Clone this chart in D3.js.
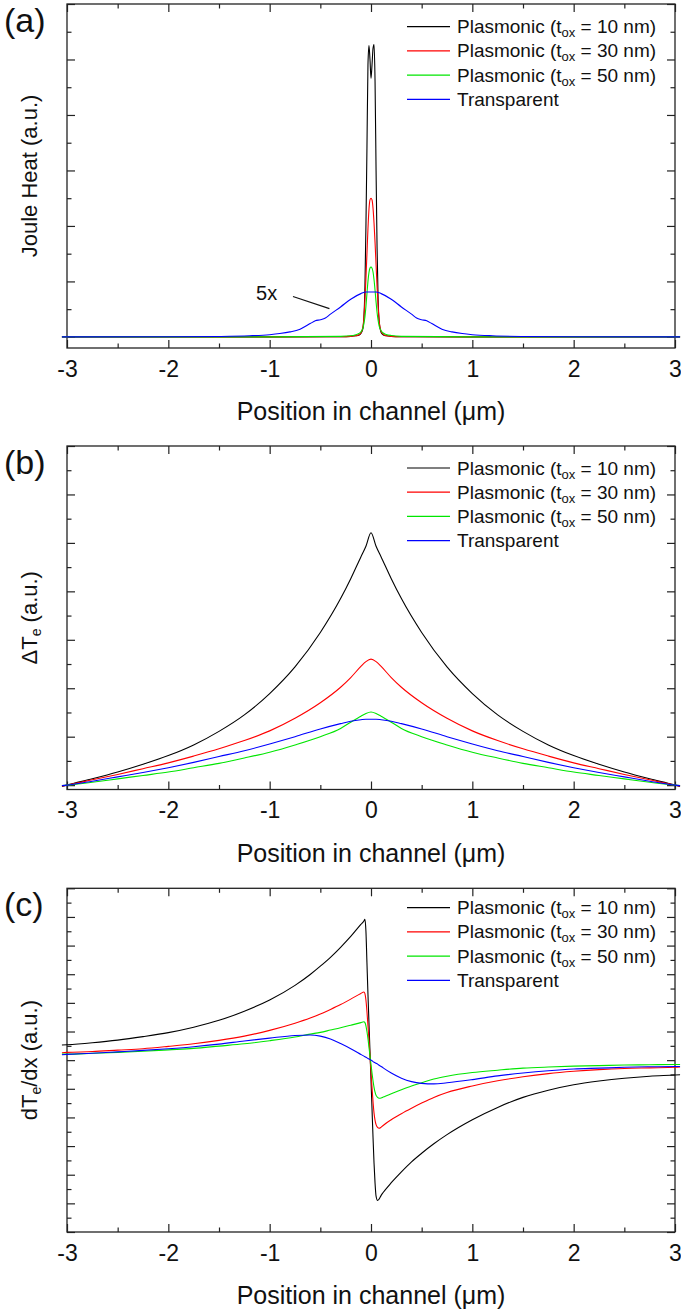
<!DOCTYPE html>
<html lang="en">
<head>
<meta charset="UTF-8" />
<title>Joule heat, electron temperature and gradient along the channel</title>
<script src="https://d3js.org/d3.v7.min.js"></script>
<style>
  body { margin: 0; background: #fff; }
  svg { display: block; font-family: "Liberation Sans", Arial, sans-serif; }
  .frame { fill: none; stroke: #222; stroke-width: 1.3px; }
  .tick line { stroke: #222; stroke-width: 1.2px; }
  .tick text { font-size: 23px; fill: #111; }
  .series { fill: none; stroke-width: 1.1px; }
  .legend text { font-size: 19px; fill: #111; }
  .x-title { font-size: 25px; fill: #111; }
  .y-title { font-size: 22px; fill: #111; }
  .panel-tag { font-size: 34px; fill: #111; }
</style>
</head>
<body>
<svg id="chart" width="681" height="1311"></svg>
<script>
// ------------------------------------------------------------
// datos (unidades arbitrarias)
// ------------------------------------------------------------
const legendLabels = ["Plasmonic (tox = 10 nm)", "Plasmonic (tox = 30 nm)", "Plasmonic (tox = 50 nm)", "Transparent"];
const colors = ["#000000", "#ff0000", "#00e600", "#0000ff"];
const xTicks = [-3, -2, -1, 0, 1, 2, 3];
const xMinorTicks = [-2.5, -1.5, -0.5, 0.5, 1.5, 2.5];

// (a) Joule heat
const jouleX = [-3.05, -1, -0.3, -0.2, -0.15, -0.12, -0.1, -0.08, -0.07, -0.06, -0.05, -0.04, -0.03, -0.02, -0.01, 0, 0.01, 0.02, 0.03, 0.04, 0.05, 0.06, 0.07, 0.08, 0.1, 0.12, 0.15, 0.2, 0.3, 1, 3.05];
const jouleP10 = [0, 0, 0.005, 0.01, 0.02, 0.03, 0.06, 0.15, 0.35, 0.9, 2.0, 3.4, 4.9, 5.25, 5.0, 4.66, 4.9, 5.2, 5.27, 4.6, 3.0, 1.6, 0.7, 0.3, 0.08, 0.04, 0.02, 0.01, 0.005, 0, 0];
const jouleP30 = [0, 0, 0.005, 0.01, 0.02, 0.04, 0.07, 0.18, 0.35, 0.65, 1.05, 1.5, 1.95, 2.3, 2.47, 2.5, 2.47, 2.32, 2.05, 1.7, 1.3, 0.9, 0.55, 0.3, 0.1, 0.05, 0.02, 0.01, 0.005, 0, 0];
const jouleP50 = [0, 0, 0.01, 0.02, 0.04, 0.06, 0.09, 0.16, 0.24, 0.36, 0.55, 0.78, 1.0, 1.16, 1.24, 1.26, 1.24, 1.17, 1.03, 0.84, 0.63, 0.44, 0.3, 0.2, 0.11, 0.07, 0.045, 0.025, 0.01, 0, 0];
const jouleTX = [-3.05, -2, -1.5, -1.2, -1, -0.9, -0.8, -0.7, -0.6, -0.55, -0.5, -0.45, -0.4, -0.3, -0.2, -0.1, -0.05, 0, 0.05, 0.1, 0.2, 0.3, 0.4, 0.45, 0.5, 0.55, 0.6, 0.7, 0.8, 0.9, 1, 1.2, 1.5, 2, 3.05];
const jouleT = [0, 0.002, 0.008, 0.02, 0.04, 0.06, 0.09, 0.14, 0.24, 0.29, 0.31, 0.34, 0.41, 0.54, 0.68, 0.78, 0.81, 0.81, 0.81, 0.78, 0.68, 0.54, 0.41, 0.34, 0.31, 0.29, 0.24, 0.14, 0.09, 0.06, 0.04, 0.02, 0.008, 0.002, 0];

// (b) delta Te
const tempX = [-3.05, -3, -2.75, -2.5, -2.25, -2, -1.75, -1.5, -1.25, -1, -0.75, -0.5, -0.3, -0.2, -0.1, -0.05, 0, 0.05, 0.1, 0.2, 0.3, 0.5, 0.75, 1, 1.25, 1.5, 1.75, 2, 2.25, 2.5, 2.75, 3, 3.05];
const tempP10 = [-0.03, 0, 0.13, 0.27, 0.43, 0.61, 0.83, 1.11, 1.45, 1.89, 2.44, 3.15, 3.85, 4.26, 4.71, 4.93, 5.21, 4.93, 4.71, 4.26, 3.85, 3.15, 2.44, 1.89, 1.45, 1.11, 0.83, 0.61, 0.43, 0.27, 0.13, 0, -0.03];
const tempP30 = [-0.02, 0, 0.11, 0.22, 0.34, 0.46, 0.6, 0.75, 0.92, 1.12, 1.38, 1.7, 2.02, 2.22, 2.45, 2.55, 2.6, 2.55, 2.45, 2.22, 2.02, 1.7, 1.38, 1.12, 0.92, 0.75, 0.6, 0.46, 0.34, 0.22, 0.11, 0, -0.02];
const tempP50 = [-0.01, 0, 0.06, 0.13, 0.2, 0.27, 0.36, 0.45, 0.56, 0.68, 0.83, 1.0, 1.17, 1.3, 1.42, 1.48, 1.51, 1.48, 1.42, 1.3, 1.17, 1.0, 0.83, 0.68, 0.56, 0.45, 0.36, 0.27, 0.2, 0.13, 0.06, 0, -0.01];
const tempT = [-0.01, 0, 0.08, 0.17, 0.26, 0.36, 0.47, 0.59, 0.71, 0.85, 1.0, 1.16, 1.27, 1.32, 1.35, 1.36, 1.36, 1.36, 1.35, 1.32, 1.27, 1.16, 1.0, 0.85, 0.71, 0.59, 0.47, 0.36, 0.26, 0.17, 0.08, 0, -0.01];

// (c) dTe/dx
const gradX = [-3.05, -3, -2.75, -2.5, -2.25, -2, -1.75, -1.5, -1.25, -1, -0.75, -0.6, -0.5, -0.4, -0.3, -0.2, -0.1, -0.07, -0.06, -0.05, -0.04, -0.03, -0.02, -0.01, 0, 0.01, 0.02, 0.03, 0.04, 0.05, 0.065, 0.08, 0.1, 0.12, 0.2, 0.3, 0.4, 0.5, 0.62, 0.75, 1, 1.25, 1.5, 1.75, 2, 2.25, 2.5, 2.75, 3, 3.05];
const gradP10 = [0.53, 0.54, 0.61, 0.70, 0.82, 0.96, 1.15, 1.39, 1.71, 2.10, 2.61, 2.99, 3.28, 3.59, 3.94, 4.32, 4.74, 4.86, 4.92, 4.5, 3.4, 2.3, 1.3, 0.3, -0.7, -1.7, -2.7, -3.6, -4.3, -4.75, -4.9, -4.85, -4.72, -4.62, -4.28, -3.9, -3.55, -3.25, -2.92, -2.6, -2.08, -1.65, -1.3, -1.05, -0.86, -0.73, -0.63, -0.56, -0.52, -0.51];
const gradP30 = [0.26, 0.27, 0.30, 0.35, 0.40, 0.48, 0.57, 0.69, 0.84, 1.04, 1.29, 1.47, 1.61, 1.77, 1.94, 2.13, 2.33, 2.38, 2.32, 2.1, 1.7, 1.2, 0.7, 0.15, -0.4, -0.95, -1.45, -1.85, -2.1, -2.25, -2.35, -2.38, -2.34, -2.28, -2.08, -1.87, -1.68, -1.5, -1.3, -1.13, -0.9, -0.72, -0.58, -0.47, -0.39, -0.33, -0.29, -0.27, -0.25, -0.24];
const gradP50 = [0.21, 0.21, 0.24, 0.27, 0.31, 0.36, 0.41, 0.49, 0.57, 0.68, 0.81, 0.91, 0.97, 1.05, 1.13, 1.22, 1.31, 1.34, 1.31, 1.2, 1.0, 0.75, 0.45, 0.15, -0.15, -0.45, -0.72, -0.95, -1.12, -1.23, -1.3, -1.33, -1.32, -1.29, -1.17, -1.03, -0.9, -0.79, -0.66, -0.56, -0.43, -0.35, -0.28, -0.24, -0.21, -0.19, -0.17, -0.16, -0.15, -0.15];
const gradT = [0.19, 0.2, 0.24, 0.29, 0.34, 0.4, 0.47, 0.56, 0.67, 0.77, 0.86, 0.88, 0.84, 0.74, 0.58, 0.4, 0.2, 0.14, 0.12, 0.1, 0.08, 0.06, 0.04, 0.02, 0, -0.02, -0.05, -0.07, -0.09, -0.11, -0.14, -0.18, -0.22, -0.27, -0.45, -0.63, -0.75, -0.81, -0.83, -0.79, -0.68, -0.55, -0.45, -0.37, -0.31, -0.28, -0.25, -0.23, -0.22, -0.22];

// ------------------------------------------------------------
// configuracion de los tres paneles
// ------------------------------------------------------------
const svg = d3.select("#chart");
const left = 67, right = 675;

const panels = [
  {
    tag: "(a)", top: 4, bottom: 348, yDomain: [-0.2, 6],
    yMajor: d3.range(0, 6.01, 1), yMinor: d3.range(0.5, 6, 1),
    ylabel: [["Joule Heat (a.u.)", false]], legendY: 26.7,
    series: [[jouleX, jouleP10], [jouleX, jouleP30], [jouleX, jouleP50], [jouleTX, jouleT]],
    note: true
  },
  {
    tag: "(b)", top: 446, bottom: 789.5, yDomain: [-0.09, 7],
    yMajor: d3.range(0, 7.01, 1), yMinor: d3.range(0.5, 7, 1),
    ylabel: [["ΔT", false], ["e", true], [" (a.u.)", false]], legendY: 468,
    series: [[tempX, tempP10], [tempX, tempP30], [tempX, tempP50], [tempX, tempT]]
  },
  {
    tag: "(c)", top: 888.3, bottom: 1232, yDomain: [-6, 6],
    yMajor: d3.range(-6, 6.01, 1), yMinor: d3.range(-5.5, 6, 1),
    ylabel: [["dT", false], ["e", true], ["/dx (a.u.)", false]], legendY: 907.7,
    series: [[gradX, gradP10], [gradX, gradP30], [gradX, gradP50], [gradX, gradT]]
  }
];

const x = d3.scaleLinear().domain([-3, 3]).range([left, right]);

function drawPanel(p) {
  const g = svg.append("g");
  const y = d3.scaleLinear().domain(p.yDomain).range([p.bottom, p.top]);

  // ejes: marcas hacia dentro en los cuatro lados
  const addAxis = (axis, tx, ty) => {
    const a = g.append("g").attr("transform", `translate(${tx},${ty})`).call(axis);
    a.select(".domain").remove();
    return a;
  };
  addAxis(d3.axisBottom(x).tickValues(xTicks).tickSizeInner(-8).tickSizeOuter(0)
    .tickPadding(12.5).tickFormat(d => String(d)), 0, p.bottom);
  addAxis(d3.axisBottom(x).tickValues(xMinorTicks).tickSize(-4.5).tickFormat(""), 0, p.bottom);
  addAxis(d3.axisTop(x).tickValues(xTicks).tickSize(-8).tickFormat(""), 0, p.top);
  addAxis(d3.axisTop(x).tickValues(xMinorTicks).tickSize(-4.5).tickFormat(""), 0, p.top);
  addAxis(d3.axisLeft(y).tickValues(p.yMajor).tickSize(-8).tickFormat(""), left, 0);
  addAxis(d3.axisLeft(y).tickValues(p.yMinor).tickSize(-4.5).tickFormat(""), left, 0);
  addAxis(d3.axisRight(y).tickValues(p.yMajor).tickSize(-8).tickFormat(""), right, 0);
  addAxis(d3.axisRight(y).tickValues(p.yMinor).tickSize(-4.5).tickFormat(""), right, 0);

  g.append("rect").attr("class", "frame")
    .attr("x", left).attr("y", p.top)
    .attr("width", right - left).attr("height", p.bottom - p.top);

  // curvas
  const line = d3.line().x(d => x(d[0])).y(d => y(d[1])).curve(d3.curveMonotoneX);
  p.series.forEach(([xs, ys], i) => {
    g.append("path").attr("class", "series")
      .attr("stroke", colors[i])
      .attr("d", line(xs.map((v, k) => [v, ys[k]])));
  });

  // leyenda
  const leg = g.append("g").attr("class", "legend");
  legendLabels.forEach((lab, i) => {
    const ly = p.legendY + i * 24.2;
    leg.append("line").attr("x1", 407).attr("x2", 450).attr("y1", ly).attr("y2", ly)
      .attr("stroke", colors[i]).attr("stroke-width", 1.2);
    const t = leg.append("text").attr("x", 457).attr("y", ly + 6.5);
    const parts = lab.split("tox");
    if (parts.length === 2) {
      t.append("tspan").text(parts[0] + "t");
      t.append("tspan").attr("font-size", "13px").attr("dy", 4).text("ox");
      t.append("tspan").attr("dy", -4).text(parts[1]);
    } else {
      t.text(lab);
    }
  });

  // titulos
  g.append("text").attr("class", "x-title")
    .attr("x", (left + right) / 2).attr("y", p.bottom + 72)
    .attr("text-anchor", "middle").text("Position in channel (μm)");

  const yt = g.append("text").attr("class", "y-title")
    .attr("text-anchor", "middle")
    .attr("transform", `translate(37,${(p.top + p.bottom) / 2}) rotate(-90)`);
  let shifted = false;
  p.ylabel.forEach(([txt, sub]) => {
    const ts = yt.append("tspan").text(txt);
    if (sub) { ts.attr("font-size", "14px").attr("dy", 4); shifted = true; }
    else if (shifted) { ts.attr("dy", -4); shifted = false; }
  });

  g.append("text").attr("class", "panel-tag")
    .attr("x", 4).attr("y", p.top + 28).text(p.tag);

  if (p.note) {
    g.append("text").attr("x", x(-1.03)).attr("y", y(0.8) + 7)
      .attr("text-anchor", "middle").attr("font-size", "20px").attr("fill", "#111").text("5x");
    g.append("line")
      .attr("x1", x(-0.77)).attr("y1", y(0.73))
      .attr("x2", x(-0.41)).attr("y2", y(0.51))
      .attr("stroke", "#111").attr("stroke-width", 1.1);
  }
}

panels.forEach(drawPanel);
</script>
</body>
</html>
